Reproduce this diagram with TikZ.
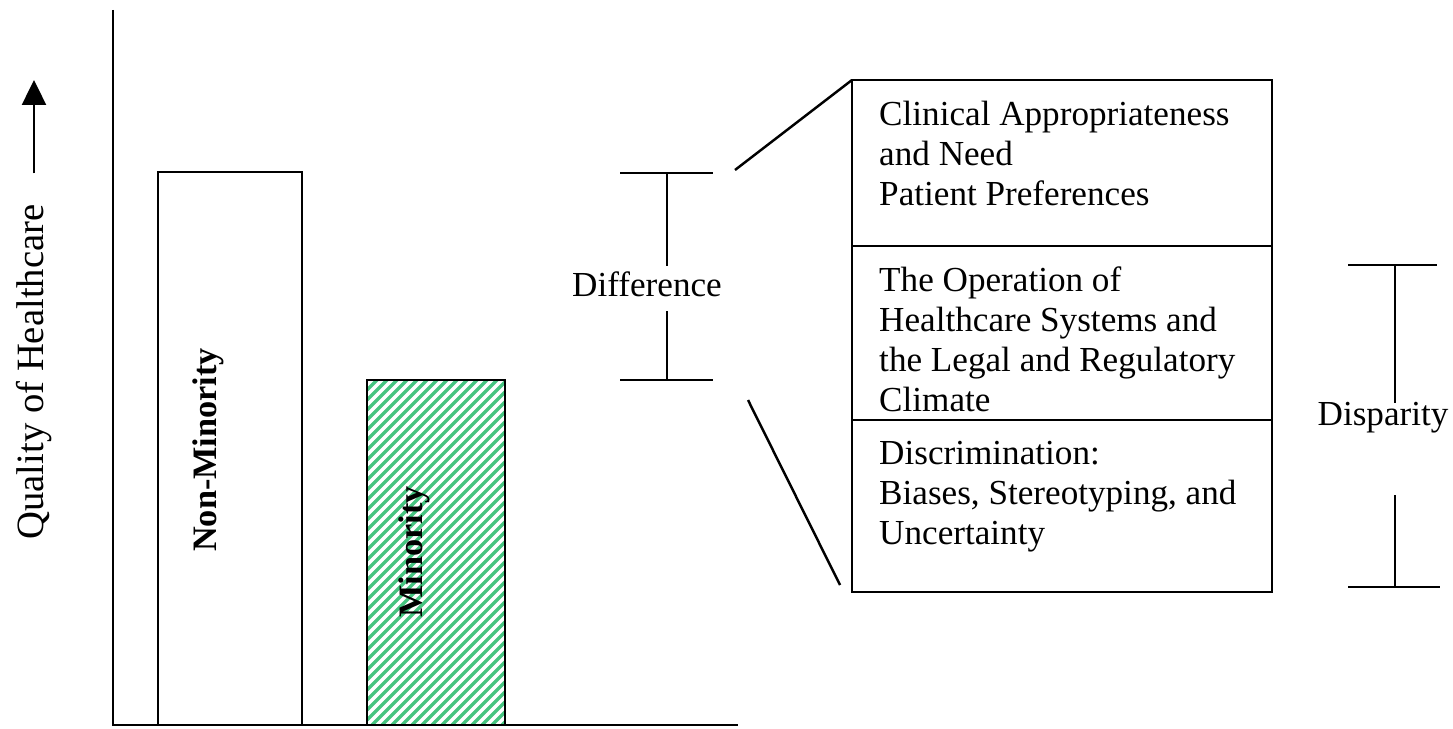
\documentclass[tikz,border=0pt]{standalone}
\usepackage{fontspec}
\setmainfont{Liberation Serif}
\usetikzlibrary{positioning,arrows.meta}
\definecolor{hatchgreen}{RGB}{70,196,128}
\tikzset{
	txt/.style={font=\fontsize{20}{22.76}\selectfont, inner sep=0pt},
	lbl/.style={txt, align=left},
	barlbl/.style={txt, font=\fontsize{19.5}{22.76}\selectfont\bfseries, rotate=90},
	bar/.style={draw, inner sep=0pt, outer sep=0pt, anchor=south west},
	factor/.style={draw, minimum width=8.4cm, inner sep=0pt, outer sep=0pt},
	hatch/.style={hatchgreen, line width=2pt},
	uparrow/.style={-{Triangle[length=0.5cm,width=0.48cm]}},
}

\begin{document}
\begin{tikzpicture}[x=0.02cm, y=-0.02cm, line width=1.4pt]
	\useasboundingbox (0,0) rectangle (1453,729);

	\coordinate (o) at (113,725);
	\coordinate (ymax) at (113,10);
	\coordinate (xmax) at (738,725);
	\draw (ymax) -- (o) -- (xmax);

	\node[txt, font=\fontsize{22}{26}\selectfont, rotate=90] (quality) at (34,372) {Quality of Healthcare};
	\coordinate (qtip) at (34,80);
	\draw[uparrow] ([yshift=0.6cm]quality.east) -- (qtip);

	\node[bar, minimum width=2.88cm, minimum height=11.06cm] (nonmin) at (158,725) {};
	\node[barlbl] (nonminlbl) at (208,450) {Non-Minority};

	\begin{scope}
		\clip (367,380) rectangle (505,725);
		\foreach \k in {0,...,52}
			\draw[hatch] (367,380+10*\k) -- ++(200,-200);
	\end{scope}
	\node[bar, minimum width=2.76cm, minimum height=6.9cm] (minor) at (367,725) {};
	\node[barlbl] (minorlbl) at (414,552) {Minority};

	\coordinate (dtop) at (667,173);
	\coordinate (dbot) at (667,380);
	\node[txt, anchor=base] (diff) at (647,297) {Difference};
	\draw ([xshift=-0.94cm]dtop) -- ([xshift=0.92cm]dtop);
	\draw ([xshift=-0.94cm]dbot) -- ([xshift=0.92cm]dbot);
	\draw (dtop) -- ++(0,93);
	\draw (dbot) -- ++(0,-69);

	\node[factor, minimum height=3.32cm, anchor=north west] (clin) at (852,80) {};
	\node[factor, minimum height=3.48cm, below=0pt of clin] (oper) {};
	\node[factor, minimum height=3.44cm, below=0pt of oper] (discr) {};
	\node[lbl, below right=0.4cm and 0.52cm of clin.north west] (clintxt) {Clinical Appropriateness\\and Need\\Patient Preferences};
	\node[lbl, below right=0.4cm and 0.52cm of oper.north west] (opertxt) {The Operation of\\Healthcare Systems and\\the Legal and Regulatory\\Climate};
	\node[lbl, below right=0.4cm and 0.52cm of discr.north west] (discrtxt) {Discrimination:\\Biases, Stereotyping, and\\Uncertainty};

	\coordinate (za) at (735,170);
	\coordinate (zb) at (748,400);
	\coordinate (zc) at (840,585);
	\draw (za) -- (clin.north west);
	\draw (zb) -- (zc);

	\coordinate (ptop) at (1395,265);
	\coordinate (pbot) at (1395,587);
	\node[txt, anchor=base] (disp) at (1383,425) {Disparity};
	\draw ([xshift=-0.94cm]ptop) -- ([xshift=0.84cm]ptop);
	\draw ([xshift=-0.94cm]pbot) -- ([xshift=0.9cm]pbot);
	\draw (ptop) -- ++(0,138);
	\draw (pbot) -- ++(0,-92);
\end{tikzpicture}
\end{document}
